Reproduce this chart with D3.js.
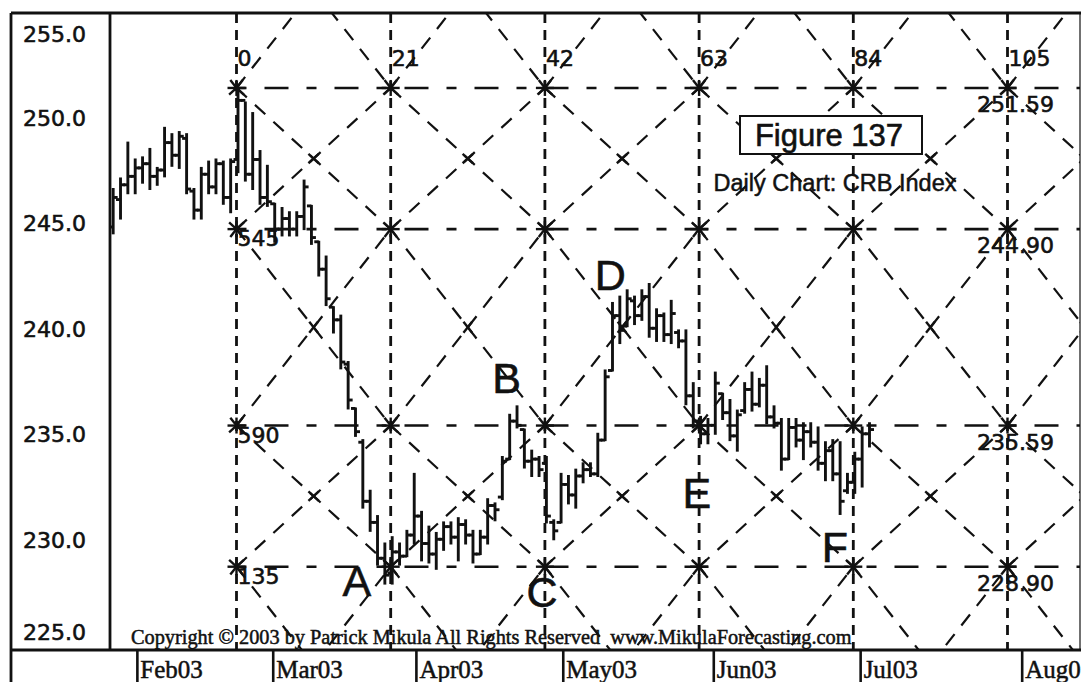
<!DOCTYPE html>
<html>
<head>
<meta charset="utf-8">
<script src="https://cdn.jsdelivr.net/npm/d3@7/dist/d3.min.js"></script>
<style>
  html, body { margin: 0; padding: 0; background: #fff; }
  svg { display: block; }
</style>
</head>
<body>
<svg id="chart" width="1081" height="682"></svg>
<script>
// ---- Daily CRB Index bars (index 0 = the March high), trading-day count ----
const firstBar = -17;
const barHigh = [
  246.8, 247.3, 249.0, 248.2, 248.3, 248.7, 247.8, 249.7, 249.4, 249.5, 249.4, 246.8, 247.8, 248.1, 248.2, 248.1, 248.2,
  251.59, 250.9, 250.4, 248.6, 247.9, 246.1, 245.9, 245.7, 245.7, 247.2, 246.0, 244.3, 243.6, 241.2, 240.8, 238.6, 236.4,
  234.9, 232.5, 231.3, 230.0, 230.3, 230.0, 230.6, 233.3, 231.5, 230.8, 230.5, 231.0, 231.0, 231.2, 231.1, 230.6, 230.6,
  232.1, 231.9, 234.1, 236.1, 236.5, 235.4, 234.4, 234.1, 234.1, 231.1, 233.3, 233.2, 233.5, 233.8, 233.8, 235.2, 238.2,
  241.4, 241.7, 242.0, 241.7, 242.0, 242.3, 241.1, 240.9, 241.5, 240.1, 240.1, 237.6, 236.0, 235.9, 238.1, 237.1, 236.8,
  236.3, 237.6, 238.1, 237.8, 238.4, 236.5, 235.9, 235.9, 235.9, 235.7, 235.7, 235.5, 234.8, 234.9, 234.8, 233.3, 234.3,
  235.5, 235.7
];
const barLow = [
  244.7, 245.4, 246.6, 246.6, 247.1, 246.8, 247.0, 247.4, 247.9, 247.8, 246.6, 245.4, 245.4, 246.6, 246.6, 246.1, 245.7,
  247.6, 247.2, 246.8, 246.1, 246.0, 244.3, 244.6, 244.6, 244.6, 244.9, 244.2, 242.7, 241.3, 240.0, 238.3, 236.4, 235.1,
  231.7, 230.6, 229.0, 228.1, 228.1, 229.0, 229.4, 230.0, 229.2, 229.1, 228.8, 229.7, 230.0, 229.2, 230.0, 229.1, 229.5,
  230.0, 231.1, 232.1, 234.0, 235.5, 233.6, 233.2, 233.2, 231.0, 230.2, 231.0, 231.9, 231.7, 232.9, 233.2, 233.2, 234.9,
  238.2, 239.5, 240.3, 240.4, 240.6, 239.8, 239.6, 239.6, 239.5, 239.3, 236.6, 235.5, 234.75, 234.75, 235.2, 235.9, 234.9,
  234.4, 236.2, 236.3, 236.5, 235.7, 235.5, 233.5, 234.0, 234.6, 234.0, 234.6, 233.5, 233.0, 233.0, 231.4, 232.4, 232.4,
  232.7, 234.6
];
const barOpen = [
  245.0, 246.3, 247.0, 247.4, 247.8, 248.0, 247.4, 247.7, 249.0, 248.4, 249.2, 246.7, 245.8, 247.5, 246.9, 248.0, 246.4,
  248.2, 251.0, 247.5, 248.2, 246.4, 246.1, 244.9, 245.4, 244.9, 245.5, 246.0, 244.3, 243.0, 241.2, 240.6, 238.5, 236.4,
  234.8, 232.0, 231.0, 229.3, 228.6, 229.6, 229.4, 230.4, 231.3, 230.0, 229.5, 230.2, 230.8, 230.3, 230.9, 230.4, 229.5,
  230.3, 231.8, 232.2, 234.0, 235.8, 235.4, 233.9, 234.0, 233.8, 231.0, 231.0, 232.8, 232.3, 233.2, 233.5, 233.3, 234.9,
  238.2, 240.8, 240.3, 241.5, 240.8, 241.7, 240.2, 240.8, 239.9, 240.0, 239.6, 237.0, 235.8, 235.2, 235.6, 237.1, 236.2,
  235.1, 236.3, 237.3, 236.6, 237.5, 236.0, 235.7, 234.0, 235.5, 234.9, 235.3, 234.8, 233.8, 234.4, 233.3, 232.5, 232.9,
  234.0, 235.2
];
const barClose = [
  246.4, 247.0, 247.4, 247.8, 248.0, 247.4, 247.7, 249.0, 248.4, 249.3, 246.8, 245.8, 247.5, 246.9, 248.0, 246.4, 248.1,
  251.0, 247.5, 248.2, 246.4, 246.2, 244.9, 245.4, 244.9, 245.5, 246.9, 244.5, 243.0, 241.6, 240.6, 238.6, 236.8, 235.3,
  232.0, 231.0, 229.3, 228.5, 229.6, 229.4, 230.4, 231.3, 230.0, 229.5, 230.2, 230.8, 230.3, 230.9, 230.4, 229.5, 230.3,
  231.8, 231.6, 233.9, 235.8, 235.6, 233.9, 234.0, 233.5, 231.3, 230.6, 232.8, 232.3, 233.2, 233.5, 233.3, 234.9, 237.9,
  240.8, 240.1, 241.6, 240.8, 241.7, 240.2, 240.8, 239.9, 240.9, 239.6, 237.0, 235.8, 235.2, 235.6, 237.6, 236.2, 235.1,
  236.1, 237.3, 236.6, 237.5, 236.0, 235.7, 234.0, 235.5, 234.9, 235.3, 234.8, 233.8, 234.4, 233.3, 232.0, 232.9, 234.0,
  235.2, 235.4
];

// ---- Axes ----
const priceTicks = [255, 250, 245, 240, 235, 230, 225];
const monthLabels = ["Feb03", "Mar03", "Apr03", "May03", "Jun03", "Jul03", "Aug03"];
const monthBars = [-13.5, 5, 24.5, 44.5, 65, 85, 107];

// ---- Time/price square overlay ----
const cycleBars = [0, 21, 42, 63, 84, 105];
const cycleLabels = ["0", "21", "42", "63", "84", "105"];
const squareLevels = [251.59, 244.90, 235.59, 228.90];
const squareLabels = ["251.59", "244.90", "235.59", "228.90"];
const levelBounds = [260.90, 251.59, 244.90, 235.59, 228.90, 219.59];
const columnBounds = [0, 21, 42, 63, 84, 105, 126];
const angleLabels = ["545", "590", "135"];          // beside the lower three levels
const angleLevels = [244.90, 235.59, 228.90];

// ---- Swing point letters ----
const pivotLabels = ["A", "B", "C", "D", "E", "F"];
const pivotBars = [16.4, 36.8, 41.6, 50.9, 62.7, 81.5];
const pivotPrices = [227.52, 237.14, 226.99, 242.02, 231.68, 229.13];

// ---- Frame geometry ----
const W = 1081, H = 682;
const frame = { left: 11, axis: 110, top: 13, plotBottom: 650, right: 1080, bottom: 682 };

const svg = d3.select("#chart");
const ink = "#111";
const sans = "'Liberation Sans', Arial, sans-serif";
const tahomaLike = "'DejaVu Sans', Verdana, sans-serif";
const serif = "'Liberation Serif', 'Times New Roman', serif";

const x = d3.scaleLinear().domain([0, 105]).range([236.5, 1007.5]);
const y = d3.scaleLinear().domain([225, 255]).range([649, 16]);

svg.append("defs").append("clipPath").attr("id", "plotClip")
  .append("rect")
  .attr("x", frame.axis + 1).attr("y", frame.top + 1)
  .attr("width", frame.right - frame.axis - 1)
  .attr("height", frame.plotBottom - frame.top - 1);

const plot = svg.append("g").attr("clip-path", "url(#plotClip)");

// ---- Square overlay: diagonals ----
const diag = plot.append("g")
  .attr("stroke", ink).attr("stroke-width", 2.2).attr("fill", "none")
  .attr("stroke-dasharray", "14,11");
const cells = [];
for (let c = 0; c < columnBounds.length - 1; c++) {
  for (let r = 0; r < levelBounds.length - 1; r++) {
    cells.push({ b0: columnBounds[c], b1: columnBounds[c + 1], p0: levelBounds[r], p1: levelBounds[r + 1] });
  }
}
diag.selectAll("line.d1").data(cells).join("line").attr("class", "d1")
  .attr("x1", d => x(d.b0)).attr("y1", d => y(d.p0))
  .attr("x2", d => x(d.b1)).attr("y2", d => y(d.p1));
diag.selectAll("line.d2").data(cells).join("line").attr("class", "d2")
  .attr("x1", d => x(d.b0)).attr("y1", d => y(d.p1))
  .attr("x2", d => x(d.b1)).attr("y2", d => y(d.p0));

// small "x" where the diagonals of a cell cross
const crossG = plot.append("g").attr("stroke", ink).attr("stroke-width", 2.4);
cells.forEach(d => {
  const cx = (x(d.b0) + x(d.b1)) / 2, cy = (y(d.p0) + y(d.p1)) / 2;
  const dx = x(d.b1) - x(d.b0), dy = y(d.p1) - y(d.p0);
  const len = Math.hypot(dx, dy), ux = dx / len * 7, uy = dy / len * 7;
  crossG.append("line").attr("x1", cx - ux).attr("y1", cy - uy).attr("x2", cx + ux).attr("y2", cy + uy);
  crossG.append("line").attr("x1", cx - ux).attr("y1", cy + uy).attr("x2", cx + ux).attr("y2", cy - uy);
});

// ---- Square overlay: cycle verticals and price levels ----
plot.append("g").selectAll("line").data(cycleBars).join("line")
  .attr("x1", d => x(d)).attr("x2", d => x(d))
  .attr("y1", frame.top).attr("y2", frame.plotBottom)
  .attr("stroke", ink).attr("stroke-width", 2.8).attr("stroke-dasharray", "10,7");

plot.append("g").selectAll("line").data(squareLevels).join("line")
  .attr("x1", x(0)).attr("x2", frame.right)
  .attr("y1", d => y(d)).attr("y2", d => y(d))
  .attr("stroke", ink).attr("stroke-width", 2.6).attr("stroke-dasharray", "10,18,24,18");

// star markers where a cycle line meets a price level
const starG = plot.append("g").attr("stroke", ink).attr("stroke-width", 2.4);
cycleBars.forEach(b => {
  squareLevels.forEach(p => {
    const cx = x(b), cy = y(p);
    const li = levelBounds.indexOf(p);
    const upH = y(levelBounds[li - 1]) - cy, dnH = y(levelBounds[li + 1]) - cy;
    const dxCell = x(21) - x(0);
    [[dxCell, upH], [-dxCell, upH], [dxCell, dnH], [-dxCell, dnH]].forEach(([dx, dy]) => {
      const l = Math.hypot(dx, dy);
      starG.append("line").attr("x1", cx).attr("y1", cy)
        .attr("x2", cx + dx / l * 10).attr("y2", cy + dy / l * 10);
    });
    starG.append("line").attr("x1", cx - 9).attr("x2", cx + 9).attr("y1", cy).attr("y2", cy);
    starG.append("line").attr("x1", cx).attr("x2", cx).attr("y1", cy - 8).attr("y2", cy + 8);
  });
});

// ---- OHLC bars ----
const bars = barHigh.map((h, i) => ({
  bar: firstBar + i, high: h, low: barLow[i], open: barOpen[i], close: barClose[i]
}));
const barG = plot.append("g").attr("stroke", ink).attr("stroke-width", 2.9).attr("fill", "none");
const bx = d => x(d.bar) + 1.5;
barG.selectAll("line.hl").data(bars).join("line").attr("class", "hl")
  .attr("x1", bx).attr("x2", bx)
  .attr("y1", d => y(d.high) - 1).attr("y2", d => y(d.low) + 1);
barG.selectAll("line.op").data(bars).join("line").attr("class", "op")
  .attr("x1", d => bx(d) - 4.5).attr("x2", bx)
  .attr("y1", d => y(d.open)).attr("y2", d => y(d.open));
barG.selectAll("line.cl").data(bars).join("line").attr("class", "cl")
  .attr("x1", bx).attr("x2", d => bx(d) + 4.5)
  .attr("y1", d => y(d.close)).attr("y2", d => y(d.close));

// ---- Overlay labels ----
plot.append("g").selectAll("text").data(cycleBars).join("text")
  .attr("x", d => x(d) + 1).attr("y", 66)
  .attr("font-family", tahomaLike).attr("font-size", 22).attr("fill", ink)
  .attr("stroke", ink).attr("stroke-width", 0.6)
  .text((d, i) => cycleLabels[i]);

plot.append("g").selectAll("text").data(squareLevels).join("text")
  .attr("x", x(105) + 8).attr("y", d => y(d) + 24)
  .attr("text-anchor", "middle")
  .attr("font-family", tahomaLike).attr("font-size", 22).attr("fill", ink)
  .attr("stroke", ink).attr("stroke-width", 0.6)
  .text((d, i) => squareLabels[i]);

plot.append("g").selectAll("text").data(angleLevels).join("text")
  .attr("x", x(0) + 1).attr("y", d => y(d) + 17)
  .attr("font-family", tahomaLike).attr("font-size", 22).attr("fill", ink)
  .attr("stroke", ink).attr("stroke-width", 0.6)
  .text((d, i) => angleLabels[i]);

// Swing letters
plot.append("g").selectAll("text").data(pivotLabels).join("text")
  .attr("x", (d, i) => x(pivotBars[i])).attr("y", (d, i) => y(pivotPrices[i]))
  .attr("text-anchor", "middle")
  .attr("font-family", sans).attr("font-size", 43).attr("fill", ink)
  .attr("stroke", ink).attr("stroke-width", 0.6)
  .text(d => d);

// Title box
const titleG = svg.append("g");
titleG.append("rect").attr("x", 740).attr("y", 116).attr("width", 182).attr("height", 38)
  .attr("fill", "#fff").attr("stroke", ink).attr("stroke-width", 2);
titleG.append("text").attr("x", 829).attr("y", 146).attr("text-anchor", "middle")
  .attr("font-family", sans).attr("font-size", 31).attr("fill", ink)
  .attr("stroke", ink).attr("stroke-width", 0.6)
  .text("Figure 137");
titleG.append("text").attr("x", 835).attr("y", 191).attr("text-anchor", "middle")
  .attr("font-family", sans).attr("font-size", 23.5).attr("fill", ink)
  .attr("stroke", ink).attr("stroke-width", 0.5)
  .text("Daily Chart: CRB Index");

// Copyright line, sized to span its row
const copy = svg.append("text").attr("x", 131).attr("y", 644)
  .attr("font-family", serif).attr("font-size", 19)
  .attr("fill", ink).attr("stroke", ink).attr("stroke-width", 0.5)
  .attr("xml:space", "preserve")
  .text("Copyright \u00A9 2003 by Patrick Mikula All Rights Reserved  www.MikulaForecasting.com");
const cw = copy.node().getComputedTextLength();
copy.attr("font-size", 19 * 721 / cw);

// ---- Frame ----
const frameG = svg.append("g").attr("stroke", ink).attr("stroke-width", 2.8).attr("fill", "none");
frameG.append("line").attr("x1", frame.left).attr("x2", W).attr("y1", frame.top).attr("y2", frame.top);
frameG.append("line").attr("x1", frame.left).attr("x2", frame.left).attr("y1", frame.top).attr("y2", H);
frameG.append("line").attr("x1", frame.axis).attr("x2", frame.axis).attr("y1", frame.top).attr("y2", frame.plotBottom);
frameG.append("line").attr("x1", frame.left).attr("x2", W).attr("y1", frame.plotBottom).attr("y2", frame.plotBottom);
frameG.append("line").attr("x1", frame.right).attr("x2", frame.right).attr("y1", frame.top).attr("y2", frame.plotBottom)
  .attr("stroke-width", 1.2);

// ---- Price axis labels (kept inside the axis box) ----
svg.append("g").selectAll("text").data(priceTicks).join("text")
  .attr("x", 23)
  .attr("y", d => Math.max(34, Math.min(632, y(d) - 4)) + 8)
  .attr("font-family", tahomaLike).attr("font-size", 22).attr("fill", ink)
  .attr("stroke", ink).attr("stroke-width", 0.6)
  .text(d => d.toFixed(1));

// ---- Month axis ----
const monthG = svg.append("g");
monthG.selectAll("line").data(monthBars).join("line")
  .attr("x1", d => x(d)).attr("x2", d => x(d))
  .attr("y1", frame.plotBottom).attr("y2", H)
  .attr("stroke", ink).attr("stroke-width", 2.6);
monthG.selectAll("text").data(monthBars).join("text")
  .attr("x", d => x(d) + 3).attr("y", 678)
  .attr("font-family", serif).attr("font-size", 25)
  .attr("fill", ink).attr("stroke", ink).attr("stroke-width", 0.5)
  .text((d, i) => monthLabels[i]);
</script>
</body>
</html>
